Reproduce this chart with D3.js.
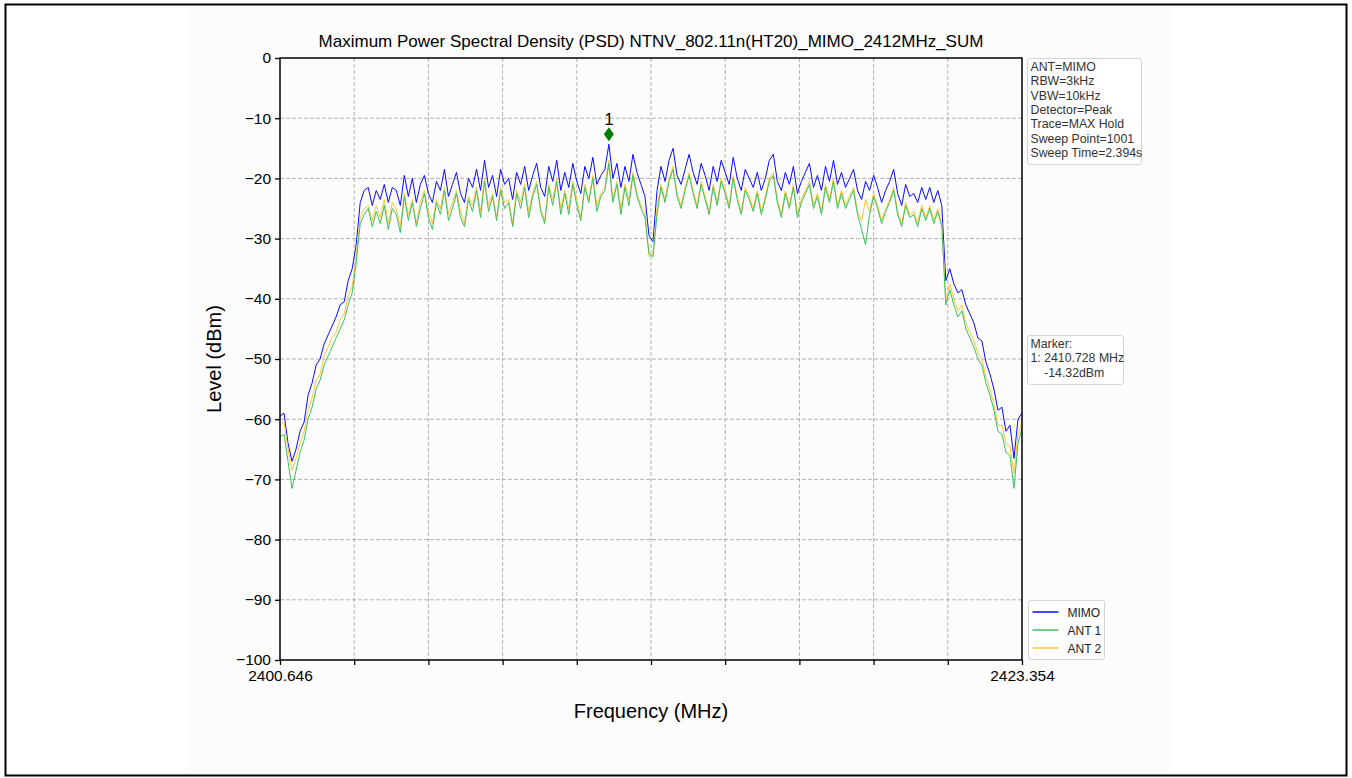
<!DOCTYPE html>
<html>
<head>
<meta charset="utf-8">
<script src="https://cdn.jsdelivr.net/npm/d3@7"></script>
<style>
  body { margin: 0; background: #fff; }
  svg { display: block; font-family: "Liberation Sans", Arial, sans-serif; }
</style>
</head>
<body>
<div class="canvas"></div>
<script>
// sweep range (MHz)
const fStart = 2400.646;
const fStop = 2423.354;

// y ticks
const yTicks = [0, -10, -20, -30, -40, -50, -60, -70, -80, -90, -100];

// level traces (dBm)
const mimo = [
  -59.5, -59, -64, -67, -65, -62, -60.5, -56, -54, -51, -50, -47.5, -46, -44.5, -43, -41, -40.5, -37, -35, -31, -24,
  -22, -21.5, -24.5, -22, -23.5, -21, -24, -21.5, -22, -24.5,
  -19.5, -23, -20, -24, -21, -19.5, -22.5, -24, -20.5, -22,
  -18.5, -23, -21, -19, -22.5, -24, -20, -21.5, -18.5, -22,
  -17, -21.5, -19.5, -23, -18.5, -21, -20, -23.5, -19, -21,
  -18, -22, -19.5, -17.5, -21.5, -23, -18, -20.5, -17, -22,
  -19, -21.5, -17.5, -20.5, -22.5, -18, -20, -16.5, -21, -19.5,
  -18.5, -14.32, -20, -17.5, -21.5, -18, -20.5, -16, -19, -21,
  -23, -29.5, -30.5, -22, -18, -20.5, -17, -15, -19.5, -21,
  -18.5, -16, -19, -21, -17.5, -19.5, -22, -18, -20.5, -17,
  -19, -21, -16.5, -20, -22, -18.5, -20, -21.5, -19, -22,
  -20, -17, -16, -20.5, -22, -19, -21, -18, -22.5, -20.5,
  -19, -17.5, -21.5, -19.5, -22, -18, -20.5, -17, -21, -19,
  -21.5, -20, -18.5, -22, -23.5, -20.5, -22, -19.5, -21.5, -24,
  -22, -20.5, -18.5, -22.5, -24.5, -21, -23, -22.5, -24, -21.5,
  -23.5, -21.5, -24, -22, -24.5,
  -37, -35, -37.5, -39, -38.5, -41, -42.5, -44, -46.5, -47, -50.5, -52.5, -55, -58.5, -58, -62, -61, -66.5, -60, -59
];

const ant1 = [
  -63, -62.5, -67, -71.5, -68.5, -65.5, -63.5, -60, -58, -55, -53.5, -51, -49.5, -48, -46.5, -45, -43.5, -41, -39, -34, -27.5,
  -26, -25, -28, -25.5, -27.5, -24.5, -28.5, -25, -26, -29,
  -23, -27, -24, -28, -25, -22.5, -26.5, -28.5, -24, -26,
  -22, -27, -25, -22.5, -26.5, -28, -23.5, -25.5, -22, -26.5,
  -20.5, -25.5, -23, -27, -22, -25, -24, -28, -22.5, -25,
  -21.5, -26.5, -23, -21, -25.5, -27.5, -21.5, -24.5, -20.5, -26,
  -22.5, -26, -21, -24.5, -27, -21.5, -24, -20, -25.5, -23,
  -22, -17.5, -24, -21, -26, -21.5, -24.5, -19.5, -23, -25,
  -26.5, -32.5, -33, -26, -21.5, -24, -20.5, -18.5, -23, -25,
  -22, -19.5, -22.5, -25, -21, -23.5, -26, -21.5, -24.5, -20.5,
  -22.5, -25, -20, -23.5, -26, -22, -23.5, -25.5, -22.5, -26,
  -23.5, -20.5, -19.5, -24, -26.5, -22.5, -25, -21.5, -26.5, -24,
  -22.5, -21, -25, -23, -26, -21.5, -24, -20.5, -25, -22.5,
  -25, -23.5, -22, -26, -28.5, -31, -26, -23, -25, -27.5,
  -25.5, -24, -22, -26, -28, -24.5, -26.5, -26, -28, -25,
  -27, -25, -27.5, -25.5, -28,
  -41, -38.5, -41, -43, -42, -45, -46.5, -48, -50, -51, -54, -56, -58.5, -62, -62.5, -65.5, -66, -71.5, -64, -61.5
];

const ant2 = [
  -61, -60.5, -65, -68.5, -66.5, -64, -62, -58.5, -56.5, -53.5, -52.5, -49.5, -48, -46.5, -45.5, -43.5, -42.5, -39.5, -38, -33, -26.5,
  -25, -24.5, -27, -24.5, -26.5, -23.5, -27.5, -24, -25, -28,
  -22.5, -26, -23.5, -27.5, -24, -22, -25.5, -27.5, -23.5, -25,
  -21.5, -26, -24, -22, -25.5, -27.5, -23, -24.5, -21.5, -25.5,
  -20, -24.5, -22.5, -26.5, -21.5, -24, -23.5, -27.5, -22, -24,
  -21, -25.5, -22.5, -20.5, -25, -27, -21, -23.5, -20, -25,
  -22, -25, -20.5, -23.5, -26.5, -21, -23.5, -19.5, -24.5, -22.5,
  -21.5, -17, -23.5, -20.5, -25, -21, -23.5, -19, -22.5, -24.5,
  -25.5, -33, -32.5, -25, -21, -23.5, -20, -18, -22.5, -24.5,
  -21.5, -19, -22, -24.5, -20.5, -23, -25.5, -21, -24, -20,
  -22, -24.5, -19.5, -23, -25.5, -21.5, -23, -25, -22, -25.5,
  -23, -20, -19, -23.5, -26, -22, -24.5, -21, -26, -23.5,
  -22, -20.5, -24.5, -22.5, -25.5, -21, -23.5, -20, -24.5, -22,
  -24.5, -23, -21.5, -25.5, -27, -23.5, -25.5, -22.5, -24.5, -27,
  -25, -23.5, -21.5, -25.5, -27.5, -24, -26, -25.5, -27.5, -24.5,
  -26.5, -24.5, -27, -25, -27.5,
  -40, -37.5, -40, -42, -41, -44, -45.5, -47, -49, -50, -53, -55, -57.5, -61, -61, -64, -64.5, -69, -62.5, -60.5
];

const seriesNames = ["MIMO", "ANT 1", "ANT 2"];
const seriesColors = ["#0a0aff", "#3cc060", "#ffc832"];

const infoLines = ["ANT=MIMO", "RBW=3kHz", "VBW=10kHz", "Detector=Peak", "Trace=MAX Hold", "Sweep Point=1001", "Sweep Time=2.394s"];
const markerLines = ["Marker:", "1: 2410.728 MHz", "    -14.32dBm"];

// dimensions
const w = 1352;
const h = 778;
const margin = { top: 58, left: 280 };
const graphWidth = 742;
const graphHeight = 602;

const svg = d3.select(".canvas").append("svg").attr("width", w).attr("height", h);

// outer frame and figure background
svg.append("rect").attr("x", 186).attr("y", 5).attr("width", 984).attr("height", 770).attr("fill", "#fcfcfc");
svg.append("rect")
  .attr("x", 5.5).attr("y", 4.5).attr("width", 1341).attr("height", 771)
  .attr("fill", "none").attr("stroke", "#000").attr("stroke-width", 2);

const graph = svg.append("g").attr("transform", `translate(${margin.left}, ${margin.top})`);

const n = mimo.length;
const freqs = d3.range(n).map((i) => fStart + (i * (fStop - fStart)) / (n - 1));

const xScale = d3.scaleLinear().domain([fStart, fStop]).range([0, graphWidth]);
const yScale = d3.scaleLinear().domain([-100, 0]).range([graphHeight, 0]);

// grid
const xTickVals = d3.range(11).map((i) => fStart + (i * (fStop - fStart)) / 10);
graph.append("g")
  .selectAll("line")
  .data(xTickVals.slice(1, 10))
  .enter()
  .append("line")
  .attr("x1", (d) => xScale(d)).attr("x2", (d) => xScale(d))
  .attr("y1", 0).attr("y2", graphHeight)
  .attr("stroke", "#aaaaaa").attr("stroke-dasharray", "4,2").attr("stroke-width", 0.9);
graph.append("g")
  .selectAll("line")
  .data(yTicks.slice(1, 10))
  .enter()
  .append("line")
  .attr("x1", 0).attr("x2", graphWidth)
  .attr("y1", (d) => yScale(d)).attr("y2", (d) => yScale(d))
  .attr("stroke", "#aaaaaa").attr("stroke-dasharray", "4,2").attr("stroke-width", 0.9);

// traces
const line = d3.line().x((d, i) => xScale(freqs[i])).y((d) => yScale(d));
const traces = [mimo, ant1, ant2];
[0, 2, 1].forEach((k) => {
  graph.append("path")
    .datum(traces[k])
    .attr("fill", "none")
    .attr("stroke", seriesColors[k])
    .attr("stroke-width", 1)
    .attr("stroke-linejoin", "round")
    .attr("d", line);
});

// marker on the MIMO peak
const pk = d3.maxIndex(mimo);
const mx = xScale(freqs[pk]);
const my = yScale(mimo[pk]) - 10;
graph.append("path")
  .attr("d", `M${mx},${my - 7} L${mx + 5},${my} L${mx},${my + 7} L${mx - 5},${my} Z`)
  .attr("fill", "#007a00");
graph.append("text")
  .attr("x", mx).attr("y", my - 9)
  .attr("text-anchor", "middle")
  .style("font-size", "17px")
  .text("1");

// axes
const yAxis = d3.axisLeft(yScale).tickValues(yTicks).tickSize(5).tickPadding(4)
  .tickFormat((d) => (d < 0 ? "\u2212" + Math.abs(d) : d));
const xAxis = d3.axisBottom(xScale).tickValues(xTickVals).tickSize(5).tickPadding(5)
  .tickFormat((d, i) => (i === 0 || i === 10 ? d3.format(".3f")(d) : ""));

const gy = graph.append("g").call(yAxis);
gy.selectAll("text").style("font-size", "15.5px").attr("fill", "#000");
const gx = graph.append("g").attr("transform", `translate(0, ${graphHeight})`).call(xAxis);
gx.selectAll("text").style("font-size", "15.5px").attr("fill", "#000");
[gx, gy].forEach((g) => {
  g.select(".domain").remove();
  g.selectAll(".tick line").attr("stroke", "#000").attr("stroke-width", 1.3);
});

// frame
graph.append("rect")
  .attr("width", graphWidth).attr("height", graphHeight)
  .attr("fill", "none").attr("stroke", "#000").attr("stroke-width", 1.5);

// titles
svg.append("text")
  .attr("x", margin.left + graphWidth / 2).attr("y", 47)
  .attr("text-anchor", "middle")
  .style("font-size", "17px")
  .text("Maximum Power Spectral Density (PSD) NTNV_802.11n(HT20)_MIMO_2412MHz_SUM");
svg.append("text")
  .attr("x", margin.left + graphWidth / 2).attr("y", 718)
  .attr("text-anchor", "middle")
  .style("font-size", "20px")
  .text("Frequency (MHz)");
svg.append("text")
  .attr("transform", `translate(221, ${margin.top + graphHeight / 2}) rotate(-90)`)
  .attr("text-anchor", "middle")
  .style("font-size", "20px")
  .text("Level (dBm)");

// text boxes on the right
const textBox = (x, y, bw, lines) => {
  const g = svg.append("g").attr("transform", `translate(${x}, ${y})`);
  g.append("rect")
    .attr("width", bw).attr("height", lines.length * 14.3 + 6)
    .attr("rx", 2.5)
    .attr("fill", "#fff").attr("stroke", "#d4d4d4").attr("stroke-width", 1);
  g.selectAll("text")
    .data(lines)
    .enter()
    .append("text")
    .attr("x", 3).attr("y", (d, i) => 12.5 + i * 14.3)
    .attr("fill", "#333")
    .style("font-size", "12.3px")
    .style("white-space", "pre")
    .text((d) => d);
};
textBox(1027.5, 58.5, 114, infoLines);
textBox(1027.5, 335.5, 96, markerLines);

// legend
const lg = svg.append("g").attr("transform", "translate(1028.5, 600.5)");
lg.append("rect")
  .attr("width", 76).attr("height", 59).attr("rx", 2.5)
  .attr("fill", "#fff").attr("stroke", "#d4d4d4");
seriesNames.forEach((name, i) => {
  const yy = 11.5 + i * 18;
  lg.append("line").attr("x1", 4).attr("x2", 30).attr("y1", yy).attr("y2", yy)
    .attr("stroke", seriesColors[i]).attr("stroke-width", 1.5);
  lg.append("text").attr("x", 39).attr("y", yy + 4.5)
    .style("font-size", "12px").attr("fill", "#222").text(name);
});
</script>
</body>
</html>
